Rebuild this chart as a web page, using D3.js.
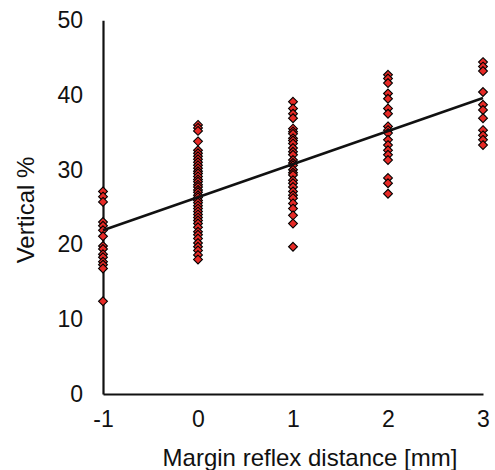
<!DOCTYPE html>
<html>
<head>
<meta charset="utf-8">
<script src="https://cdn.jsdelivr.net/npm/d3@7"></script>
<style>
  body { margin: 0; background: #fff; }
  svg text { font-family: "Liberation Sans", Arial, Helvetica, sans-serif; fill: #111; }
</style>
</head>
<body>
<svg id="chart" width="495" height="470"></svg>
<script>
// values, one array per margin reflex distance
var mrdMinus1 = [27.1, 26.4, 25.7, 23.0, 22.5, 21.9, 21.1, 19.8, 19.4, 18.7, 18.3, 17.7, 17.3, 16.8, 12.4];
var mrd0 = [36.0, 35.6, 35.2, 33.8, 32.6, 32.2, 31.8, 31.4, 31.0, 30.6, 30.2, 29.8, 29.5, 29.1, 28.7, 28.4,
            28.0, 27.7, 27.3, 27.0, 26.6, 26.3, 25.9, 25.6, 25.2, 24.8, 24.4, 24.0, 23.6, 23.2, 22.8, 22.3,
            21.7, 21.3, 20.8, 20.2, 19.7, 19.2, 18.6, 18.0];
var mrd1 = [39.1, 38.2, 37.5, 36.9, 35.5, 35.1, 34.8, 34.2, 33.9, 33.5, 32.9, 32.4, 32.0, 31.3, 30.9, 30.6,
            30.0, 29.6, 29.3, 28.6, 28.2, 27.7, 27.1, 26.6, 26.2, 25.5, 24.8, 23.9, 22.8, 19.7];
var mrd2 = [42.7, 42.2, 41.6, 40.2, 39.5, 38.2, 37.5, 35.8, 35.3, 34.9, 34.0, 33.3, 32.6, 32.0, 31.3, 28.9, 28.2, 26.8];
var mrd3 = [44.4, 43.8, 43.2, 40.4, 38.7, 38.0, 36.9, 35.3, 34.6, 34.0, 33.3];

var xTicks = [-1, 0, 1, 2, 3];
var yTicks = [0, 10, 20, 30, 40, 50];
var trendX = [-1, 3];
var trendY = [21.9, 39.6];

(function () {
    'use strict';
    var groups = [[-1, mrdMinus1], [0, mrd0], [1, mrd1], [2, mrd2], [3, mrd3]];
    var points = [];
    groups.forEach(function(g) {
        g[1].forEach(function(v) { points.push({x: g[0], y: v}); });
    });

    var svg = d3.select("#chart"),
        plotLeft = 103, plotRight = 483, plotTop = 20.25, plotBottom = 394;

    var x = d3.scaleLinear().domain([-1, 3]).range([plotLeft, plotRight]);
    var y = d3.scaleLinear().domain([0, 50]).range([plotBottom, plotTop]);

    var xAxis = svg.append("g")
        .attr("transform", "translate(0," + plotBottom + ")")
        .call(d3.axisBottom(x).tickValues(xTicks).tickSize(0).tickSizeOuter(0).tickPadding(17)
            .tickFormat(function(d) { return String(d); }));
    xAxis.select(".domain").attr("stroke", "#111").attr("stroke-width", 2.2);
    xAxis.selectAll("text").attr("font-size", 23).attr("fill", "#111");

    var yAxis = svg.append("g")
        .attr("transform", "translate(" + plotLeft + ",0)")
        .call(d3.axisLeft(y).tickValues(yTicks).tickSize(0).tickSizeOuter(0).tickPadding(20)
            .tickFormat(function(d) { return String(d); }));
    yAxis.select(".domain").attr("stroke", "#111").attr("stroke-width", 2.2);
    yAxis.selectAll("text").attr("font-size", 23).attr("fill", "#111");

    var diamond = d3.symbol().type(d3.symbolDiamond2).size(50);

    svg.append("g").selectAll("path")
        .data(points)
        .enter()
        .append("path")
        .attr("d", diamond)
        .attr("transform", function(d) { return "translate(" + x(d.x) + "," + y(d.y) + ")"; })
        .attr("fill", "#e62a26")
        .attr("stroke", "#000")
        .attr("stroke-width", 1.1);

    svg.append("line")
        .attr("x1", x(trendX[0])).attr("y1", y(trendY[0]))
        .attr("x2", x(trendX[1])).attr("y2", y(trendY[1]))
        .attr("stroke", "#111")
        .attr("stroke-width", 2.5);

    svg.append("text")
        .attr("x", (plotLeft + plotRight) / 2 + 17)
        .attr("y", 466)
        .attr("text-anchor", "middle")
        .attr("font-size", 24)
        .text("Margin reflex distance [mm]");

    svg.append("text")
        .attr("transform", "translate(34,210) rotate(-90)")
        .attr("text-anchor", "middle")
        .attr("font-size", 24)
        .text("Vertical %");
})();
</script>
</body>
</html>
